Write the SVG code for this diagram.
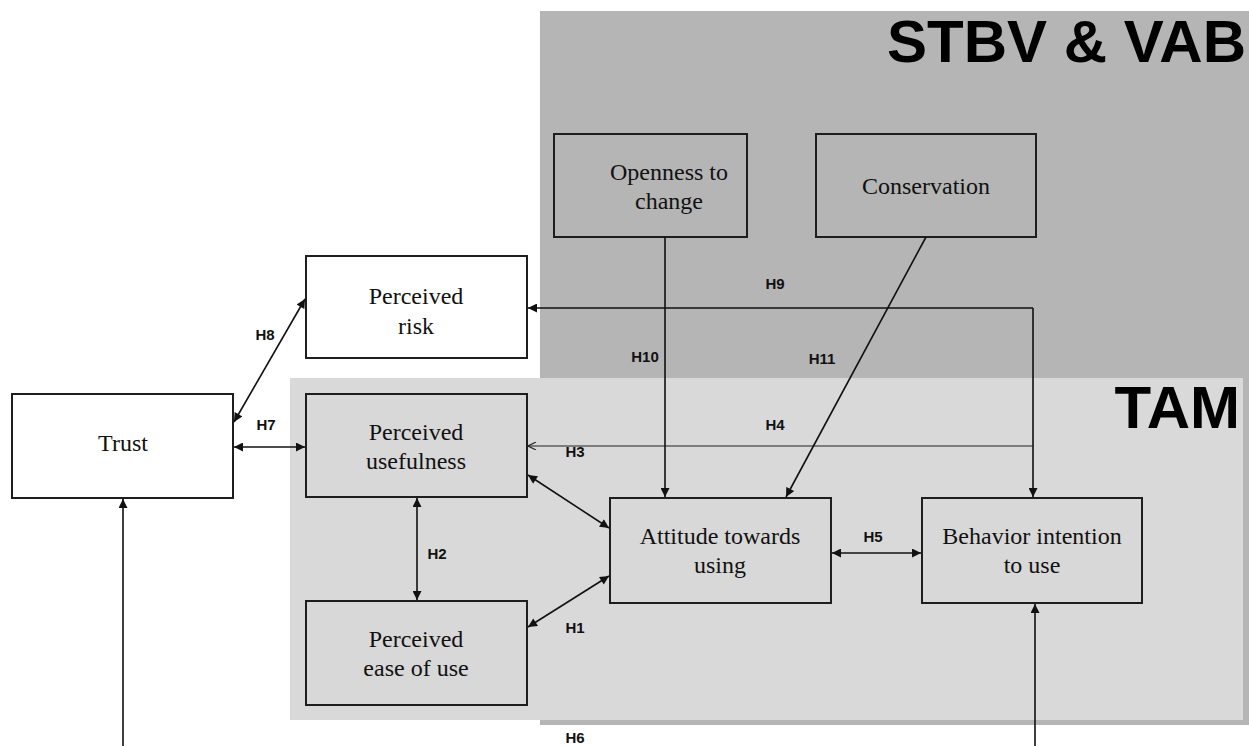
<svg xmlns="http://www.w3.org/2000/svg" width="1249" height="746" viewBox="0 0 1249 746">
  <defs>
    <style>
      .node { stroke: #1e1e1e; stroke-width: 2; }
      .white { fill: #ffffff; }
      .dark { fill: #b5b5b5; }
      .light { fill: #d8d8d8; }
      .lbl { font-family: "Liberation Serif", "Times New Roman", serif; font-size: 24px; fill: #111; text-anchor: middle; }
      .hyp { font-family: "Liberation Sans", Arial, sans-serif; font-size: 15px; font-weight: bold; fill: #111; text-anchor: middle; }
      .title { font-family: "Liberation Sans", Arial, sans-serif; font-size: 60px; font-weight: bold; fill: #000; text-anchor: end; }
      .edge { stroke: #111; stroke-width: 1.6; fill: none; }
      .thin { stroke: #222; stroke-width: 1.1; fill: none; }
    </style>
    <marker id="arrow" viewBox="0 0 10 10" refX="10" refY="5" markerWidth="10" markerHeight="9" markerUnits="userSpaceOnUse" orient="auto-start-reverse">
      <path d="M0,0 L10,5 L0,10 z" fill="#111"/>
    </marker>
    <marker id="open" viewBox="0 0 10 10" refX="10" refY="5" markerWidth="10" markerHeight="8" markerUnits="userSpaceOnUse" orient="auto">
      <path d="M0,0 L10,5 L0,10" fill="none" stroke="#222" stroke-width="1.4"/>
    </marker>
  </defs>

  <rect width="1249" height="746" fill="#ffffff"/>

  <!-- theory regions -->
  <g id="region-stbv">
    <rect x="540" y="11" width="709" height="714" fill="#b5b5b5"/>
    <text class="title" x="1246" y="62">STBV &amp; VAB</text>
  </g>
  <g id="region-tam">
    <rect x="290" y="378" width="953" height="342" fill="#d9d9d9"/>
    <text class="title" x="1240" y="428">TAM</text>
  </g>

  <!-- constructs -->
  <g id="openness">
    <rect class="node dark" x="554" y="134" width="193" height="103"/>
    <text class="lbl" x="669" y="180">Openness to</text>
    <text class="lbl" x="669" y="209">change</text>
  </g>
  <g id="conservation">
    <rect class="node dark" x="816" y="134" width="220" height="103"/>
    <text class="lbl" x="926" y="194">Conservation</text>
  </g>
  <g id="risk">
    <rect class="node white" x="306" y="256" width="221" height="102"/>
    <text class="lbl" x="416" y="304">Perceived</text>
    <text class="lbl" x="416" y="334">risk</text>
  </g>
  <g id="trust">
    <rect class="node white" x="12" y="394" width="221" height="104"/>
    <text class="lbl" x="123" y="451">Trust</text>
  </g>
  <g id="usefulness">
    <rect class="node light" x="306" y="394" width="221" height="103"/>
    <text class="lbl" x="416" y="440">Perceived</text>
    <text class="lbl" x="416" y="469">usefulness</text>
  </g>
  <g id="ease">
    <rect class="node light" x="306" y="601" width="221" height="104"/>
    <text class="lbl" x="416" y="647">Perceived</text>
    <text class="lbl" x="416" y="676">ease of use</text>
  </g>
  <g id="attitude">
    <rect class="node light" x="610" y="498" width="221" height="105"/>
    <text class="lbl" x="720" y="544">Attitude towards</text>
    <text class="lbl" x="720" y="573">using</text>
  </g>
  <g id="intention">
    <rect class="node light" x="922" y="498" width="220" height="105"/>
    <text class="lbl" x="1032" y="544">Behavior intention</text>
    <text class="lbl" x="1032" y="573">to use</text>
  </g>

  <!-- hypothesised paths -->
  <g id="connectors">
    <!-- H9 / H4 trunk from intention -->
    <line class="edge" x1="1033" y1="308" x2="528" y2="308" marker-end="url(#arrow)"/>
    <line class="edge" x1="1033" y1="308" x2="1033" y2="497" marker-end="url(#arrow)"/>
    <line class="thin" x1="1033" y1="446" x2="528" y2="446" marker-end="url(#open)"/>
    <!-- H10, H11 -->
    <line class="edge" x1="665" y1="237" x2="665" y2="497" marker-end="url(#arrow)"/>
    <line class="edge" x1="926" y1="237" x2="786" y2="497" marker-end="url(#arrow)"/>
    <!-- H8, H7 -->
    <line class="edge" x1="234" y1="422" x2="305" y2="299" marker-start="url(#arrow)" marker-end="url(#arrow)"/>
    <line class="edge" x1="234" y1="447" x2="305" y2="447" marker-start="url(#arrow)" marker-end="url(#arrow)"/>
    <!-- H3, H1, H2, H5 -->
    <line class="edge" x1="528" y1="475" x2="609" y2="528" marker-start="url(#arrow)" marker-end="url(#arrow)"/>
    <line class="edge" x1="528" y1="627" x2="609" y2="576" marker-start="url(#arrow)" marker-end="url(#arrow)"/>
    <line class="edge" x1="417" y1="498" x2="417" y2="600" marker-start="url(#arrow)" marker-end="url(#arrow)"/>
    <line class="edge" x1="832" y1="553" x2="921" y2="553" marker-start="url(#arrow)" marker-end="url(#arrow)"/>
    <!-- incoming from below -->
    <line class="edge" x1="123" y1="746" x2="123" y2="499" marker-end="url(#arrow)"/>
    <line class="edge" x1="1035" y1="746" x2="1035" y2="604" marker-end="url(#arrow)"/>

    <text class="hyp" x="775" y="289">H9</text>
    <text class="hyp" x="775" y="430">H4</text>
    <text class="hyp" x="645" y="362">H10</text>
    <text class="hyp" x="822" y="364">H11</text>
    <text class="hyp" x="265" y="340">H8</text>
    <text class="hyp" x="266" y="430">H7</text>
    <text class="hyp" x="575" y="457">H3</text>
    <text class="hyp" x="437" y="559">H2</text>
    <text class="hyp" x="575" y="633">H1</text>
    <text class="hyp" x="873" y="542">H5</text>
    <text class="hyp" x="575" y="743">H6</text>
  </g>
</svg>
